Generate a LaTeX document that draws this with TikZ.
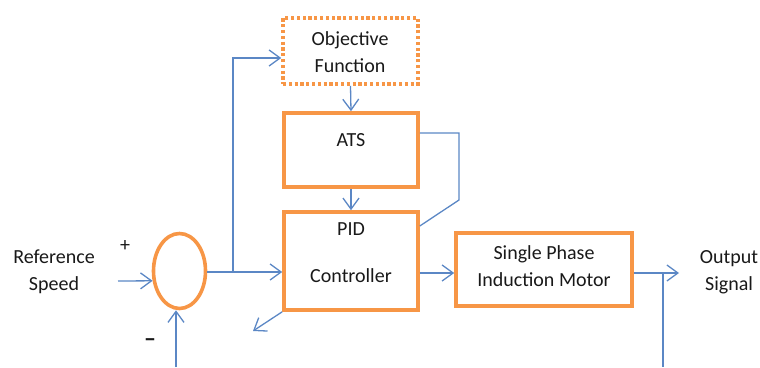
\documentclass[tikz,border=0pt]{standalone}
\usepackage{fontspec}
\setmainfont{Carlito}
\usetikzlibrary{arrows.meta,shapes.geometric}
\definecolor{borange}{HTML}{F79646}
\definecolor{lblue}{HTML}{5B87C5}
\tikzset{
  box/.style={draw=borange, line width=3.6pt, rectangle, inner sep=0pt},
  dotbox/.style={draw=borange, line width=3.6pt, rectangle, inner sep=0pt, dash pattern=on 3.2pt off 2.6pt},
  txt/.style={font=\fontsize{20}{27}\selectfont, align=center, inner sep=0pt, text=black!90},
  conn/.style={draw=lblue, line width=1.3pt},
  arr/.style={conn, -{Straight Barb[length=11pt,width=16pt,line width=1.3pt]}}
}
\begin{document}
\begin{tikzpicture}[x=1pt,y=-1pt]
\useasboundingbox (0,0) rectangle (760,367);
% boxes
\node[dotbox, minimum width=135pt, minimum height=66pt] (obj) at (350.5,51) {};
\node[box, minimum width=134pt, minimum height=74pt] (ats) at (351,150) {};
\node[box, minimum width=134pt, minimum height=98pt] (pid) at (351,261) {};
\node[box, minimum width=176pt, minimum height=73pt] (motor) at (544,269.5) {};
\node[draw=borange, line width=3.6pt, ellipse, inner sep=0pt, minimum width=52pt, minimum height=75pt] (sum) at (179.5,271) {};
% texts
\node[txt] (objt) at (350,52) {Objective\\Function};
\node[txt] (atst) at (351,140) {ATS};
\node[txt] (pidt) at (351,229) {PID};
\node[txt] (ctrlt) at (351,276) {Controller};
\node[txt] (motort) at (544,266) {Single Phase\\Induction Motor};
\node[txt] (reft) at (54,272) {Reference\\Speed};
\node[txt] (outt) at (729,272) {Output\\Signal};
\node[txt] (plus) at (125,246) {+};
\node[txt, font=\fontsize{24}{27}\selectfont\bfseries] (minus) at (150,343) {–};
% coordinates
\coordinate (in) at (118,281);
\coordinate (br) at (233,272);
\coordinate (fb1) at (459,133);
\coordinate (fb2) at (459,200);
\coordinate (diag) at (253,331);
\coordinate (out) at (679,273);
\coordinate (tap) at (663,273);
\coordinate (tapend) at (663,367);
\coordinate (fbin) at (176,367);
% connectors
\draw[arr] (in) -- (sum.200);
\draw[arr] (sum.east |- br) -- (br -| pid.west);
\draw[arr] (br) |- ([yshift=-7pt]obj.west);
\draw[arr] (obj.south) -- (ats.north);
\draw[arr] (ats.south) -- (pid.north);
\draw[conn] ([yshift=17pt]ats.east) -- (fb1) -- (fb2) -- ([yshift=35pt]pid.east);
\draw[arr] (pid.south west) -- (diag);
\draw[arr] (pid.east |- out) -- (motor.west |- out);
\draw[arr] (motor.east |- out) -- (out);
\draw[conn] (tap) -- (tapend);
\draw[arr] (fbin) -- (fbin |- sum.south);
\end{tikzpicture}
\end{document}
